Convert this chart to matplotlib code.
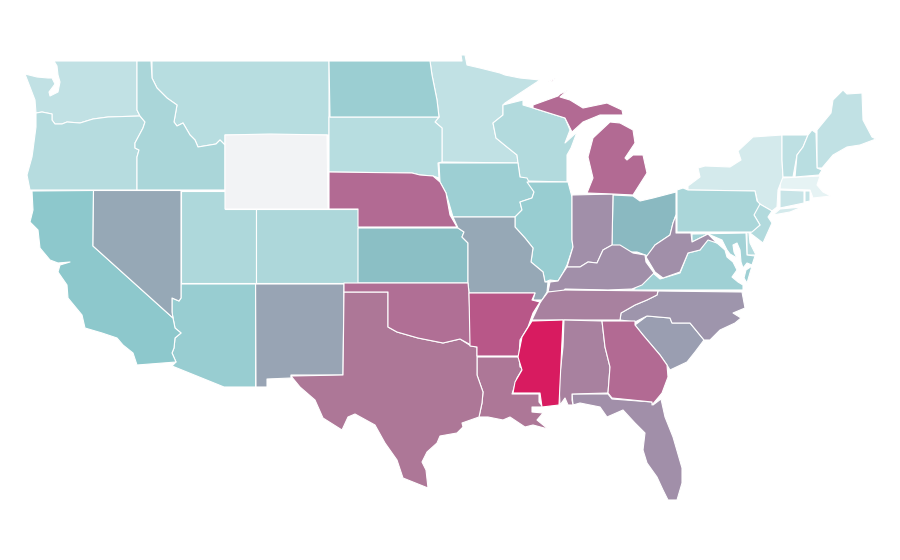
import numpy as np
import matplotlib
matplotlib.use("Agg")
import matplotlib.pyplot as plt
from matplotlib.collections import PolyCollection
from matplotlib.colors import LinearSegmentedColormap, Normalize

# State shapes, in image units of the 900x560 map.
OUTLINES = {
"WA": [[(54,61),(137,61),(137,110),(140,116),(108,117),(93,119),(80,123),(67,122),(62,124),(55,124),(52,120),(52,114),(42,112),(36,113),(35,100),(30,87),(25,74),(37,77),(48,78),(52,78),(55,84),(49,92),(50,96),(58,92),(60,82),(58,75),(57,66)]],
"OR": [[(36,113),(42,112),(52,114),(52,120),(55,124),(62,124),(67,122),(80,123),(93,119),(108,117),(140,116),(145,122),(143,128),(135,143),(135,148),(139,150),(137,157),(137,190),(30,190),(27,175),(32,157),(33,150),(36,127)]],
"ID": [[(137,61),(151,61),(152,78),(157,88),(167,98),(177,105),(174,122),(177,126),(183,123),(190,135),(195,140),(198,147),(216,144),(220,140),(225,145),(225,190),(137,190),(137,157),(139,150),(135,148),(135,143),(143,128),(145,122),(140,116),(137,110)]],
"MT": [[(152,61),(329,61),(329,135),(225,135),(225,145),(220,140),(216,144),(198,147),(195,140),(190,135),(183,123),(177,126),(174,122),(177,105),(167,98),(157,88),(152,78)]],
"WY": [[(225,135),(270,134),(327,135),(328,209),(225,209)]],
"ND": [[(329,61),(430,61),(432,75),(437,100),(439,117),(330,117)]],
"SD": [[(329,117),(439,117),(435,122),(442,128),(442,162),(438,163),(439,178),(433,176),(420,175),(412,173),(329,172)]],
"NE": [[(329,172),(412,173),(420,175),(433,176),(440,182),(446,193),(450,215),(457,227),(358,227),(358,209),(329,209)]],
"KS": [[(358,228),(458,228),(464,232),(462,237),(468,243),(468,283),(358,283)]],
"CO": [[(255.6,209),(358,209),(358,283),(255.6,283)]],
"UT": [[(181,190.5),(225,190.5),(225,209),(255.6,209),(255.6,283),(181,283)]],
"NV": [[(93.5,190.5),(181,190.5),(181,298),(179,301),(172,298),(172,312),(173,318),(93,246)]],
"CA": [[(32,191),(93.5,190.5),(93,246),(173,318),(175,328),(181,333),(175,338),(174,348),(172,353),(176,362),(137,365),(133,353),(123,345),(117,338),(102,333),(85,328),(82,315),(68,298),(67,285),(58,272),(60,265),(70,262),(58,263),(50,260),(40,248),(38,230),(30,222),(33,210)]],
"AZ": [[(181,284),(255.6,284),(255.6,387),(224,387),(172,366),(176,362),(172,353),(174,348),(175,338),(181,333),(175,328),(173,318),(172,312),(172,298),(179,301),(181,298)]],
"NM": [[(255.6,284),(344,284),(343,375),(291,375),(291,378),(267,379),(267,387),(256,387)]],
"OK": [[(344,283),(468,283),(469,293),(471,345),(460,339),(443,343),(418,338),(397,332),(388,327),(388,292),(344,292)]],
"TX": [[(344,292),(388,292),(388,327),(397,332),(418,338),(443,343),(460,339),(471,346),(477,347),(477,375),(483,392),(482,403),(479,417),(462,423),(463,427),(457,433),(440,436),(437,443),(427,452),(422,462),(426,470),(428,488),(403,478),(397,460),(385,443),(375,425),(355,414),(348,417),(342,430),(323,418),(315,400),(300,387),(291,376),(343,375)]],
"LA": [[(477,357),(519,357),(520,367),(523,368),(517,378),(512,394),(539,394),(539,402),(543,407),(532,407),(532,412),(543,413),(537,420),(548,429),(533,425),(525,427),(510,417),(503,420),(488,417),(479,417),(482,403),(483,392),(477,375)]],
"AR": [[(469,293),(535,293),(532,300),(540,302),(533,313),(528,327),(520,340),(519,356),(477,356),(477,347),(470,346)]],
"MO": [[(453,217),(515,217),(515,227),(525,238),(533,248),(531,262),(543,272),(545,282),(548,282),(547,292),(542,300),(533,300),(535,293),(469,293),(468,283),(468,243),(462,237),(464,232),(458,228)]],
"IA": [[(439,163),(518,163),(520,177),(527,178),(534,192),(532,198),(520,202),(522,210),(515,217),(453,217),(446,193),(440,182)]],
"MN": [[(430,61),(462,61),(461,55),(465,55),(467,65),(480,68),(500,73),(505,75),(520,78),(540,80),(505,103),(503,105),(503,115),(493,123),(496,138),(507,147),(517,155),(518,163),(442,162),(442,128),(435,122),(439,117),(437,100),(432,75)]],
"WI": [[(503,105),(523,100),(523,105),(533,108),(565,118),(570,130),(565,143),(577,132),(571,148),(567,155),(567,182),(527,181),(520,177),(518,163),(517,155),(507,147),(496,138),(493,123),(503,115)]],
"IL": [[(527,182),(568,182),(572,197),(572,240),(573,247),(567,265),(563,273),(558,281),(550,280),(545,282),(543,272),(531,262),(533,248),(525,238),(515,227),(515,217),(522,210),(520,202),(532,198),(534,192)]],
"IN": [[(572,195),(613,194),(612,245),(603,250),(597,263),(588,262),(580,267),(567,267),(573,247),(572,240)]],
"MI": [[(587,193),(613,194),(633,195),(647,173),(643,155),(633,155),(627,160),(625,158),(635,143),(633,130),(620,123),(610,122),(593,138),(588,157),(593,178)],
       [(533,105),(558,96),(560,94),(568,90),(560,97),(570,100),(583,108),(607,103),(622,110),(623,115),(600,115),(583,122),(572,132),(565,118),(533,108)],
       [(548,82),(556,78),(553,81)]],
"OH": [[(613,195),(633,196),(640,201),(653,198),(676,192),(676,215),(673,223),(670,235),(655,245),(648,256),(637,252),(625,252),(612,245)]],
"KY": [[(612,245),(620,245),(633,253),(645,255),(646,262),(654,273),(642,285),(632,289),(608,290),(565,289),(563,292),(548,292),(550,282),(558,281),(563,273),(567,267),(580,267),(588,262),(597,263),(603,250)]],
"WV": [[(646,257),(655,245),(670,235),(673,223),(676,215),(676,233),(691,233),(692,242),(708,234),(717,243),(708,240),(700,250),(688,253),(680,272),(663,278),(655,272)]],
"VA": [[(633,290),(643,280),(653,273),(660,279),(680,273),(688,253),(700,250),(708,239),(717,243),(725,250),(727,257),(733,262),(737,270),(732,277),(738,282),(743,285),(743,290)],
       [(752,266),(747,283),(744,278),(746,270)]],
"MD": [[(692,234),(746,233),(747,255),(755,256),(752,265),(747,263),(743,268),(741,262),(740,250),(737,243),(733,245),(734,252),(737,258),(730,254),(727,250),(722,240),(708,234),(692,242)]],
"DE": [[(747,232),(749,233),(750,243),(756,255),(747,255)]],
"NJ": [[(758,203),(772,211),(768,217),(772,223),(763,243),(750,233),(760,225),(754,215)]],
"PA": [[(677,190),(683,188),(688,190),(755,191),(757,201),(760,204),(754,215),(760,225),(752,232),(677,232)]],
"NY": [[(688,190),(688,186),(700,177),(698,168),(705,166),(730,167),(741,160),(738,151),(753,137),(782,135),(782,160),(783,177),(778,190),(777,207),(772,211),(758,203),(755,191)],
       [(773,215),(780,209),(802,207),(790,212)]],
"VT": [[(782,135),(808,135),(803,147),(797,155),(793,177),(783,177),(782,160)]],
"NH": [[(812,130),(816,133),(817,168),(822,170),(819,175),(795,177),(797,155),(803,147),(808,135)]],
"ME": [[(817,130),(831,113),(833,100),(843,90),(847,94),(862,93),(863,120),(872,137),(876,139),(860,145),(847,147),(833,155),(822,168),(817,168)]],
"MA": [[(781,178),(820,176),(817,185),(823,192),(831,196),(813,198),(810,190),(780,189)]],
"CT": [[(780,190),(804,191),(804,203),(780,208)]],
"RI": [[(805,191),(810,191),(810,201),(805,202)]],
"NC": [[(658,291),(742,292),(745,308),(733,313),(741,318),(735,323),(720,330),(710,340),(704,340),(690,323),(672,323),(670,318),(647,316),(635,322),(620,320),(621,313),(635,305),(647,300),(657,295)]],
"SC": [[(635,325),(647,316),(670,318),(672,323),(690,323),(704,340),(695,352),(687,362),(670,370),(667,365),(660,355),(643,335)]],
"GA": [[(602,321),(635,321),(635,325),(643,335),(660,355),(667,365),(668,377),(662,393),(652,405),(652,402),(612,398),(608,393),(610,367),(605,347)]],
"AL": [[(564,320),(602,321),(605,347),(610,367),(608,393),(572,394),(572,400),(573,405),(568,405),(565,398),(560,405),(559,383),(563,347)]],
"MS": [[(532,321),(563,320),(559,405),(542,407),(540,393),(513,393),(515,382),(522,370),(518,357),(522,337)]],
"TN": [[(548,292),(565,290),(658,291),(657,295),(647,300),(635,305),(621,313),(620,320),(532,320),(540,303),(542,300)]],
"FL": [[(572,394),(608,394),(612,399),(652,402),(653,405),(661,399),(665,417),(673,437),(682,468),(682,483),(677,500),(668,500),(663,490),(657,477),(647,463),(643,450),(645,433),(635,423),(623,410),(607,417),(600,407),(580,403),(573,405)]],
}

# Value per state, read from the fill shade; WY has no data.
STATES = ["MA","NY","RI","CT","WA","MN","ME","VT","NH","MT","SD","OR","DE","NJ",
          "WI","ID","UT","CO","PA","MD","VA","IA","ND","IL","AZ","CA","KS","OH",
          "NV","MO","NM","SC","NC","FL","IN","KY","WV","TN","AL","LA","TX","OK",
          "NE","MI","GA","AR","MS","WY"]
VALUES = [0,5,9,8,10,10,10,11,14,15,15,16,17,18,
          18,22,20,21,22,26,28,29,30,31,31,35,38,40,
          45,45,46,47,49,50,50,50,50,53,53,55,55,58,
          60,60,60,65,100,np.nan]

STOPS = [0,5,10,20,30,35,40,45,50,55,60,65,100]
STOP_COLORS = ["#e6f3f4","#d3e9ec","#c0e1e4","#aed8db","#9bced2","#8dc8cc","#8ab9c1",
               "#96a8b6","#a090aa","#ad7697","#b26a93","#b85788","#d81b60"]
NO_DATA = "#f2f3f5"

vmin, vmax = STOPS[0], STOPS[-1]
cmap = LinearSegmentedColormap.from_list(
    "shade", [((s - vmin) / (vmax - vmin), c) for s, c in zip(STOPS, STOP_COLORS)])
cmap.set_bad(NO_DATA)

fig = plt.figure(figsize=(9, 5.6), dpi=100, facecolor="white")
ax = fig.add_axes([0, 0, 1, 1])
ax.set_xlim(0, 900)
ax.set_ylim(560, 0)
ax.axis("off")

verts, arr = [], []
for st, v in zip(STATES, VALUES):
    for ring in OUTLINES[st]:
        verts.append(ring)
        arr.append(v)

pc = PolyCollection(verts, array=np.ma.masked_invalid(arr), cmap=cmap,
                    norm=Normalize(vmin, vmax), edgecolors="white", linewidths=0.8)
ax.add_collection(pc)
fig.savefig("out.png", dpi=100, facecolor="white")
